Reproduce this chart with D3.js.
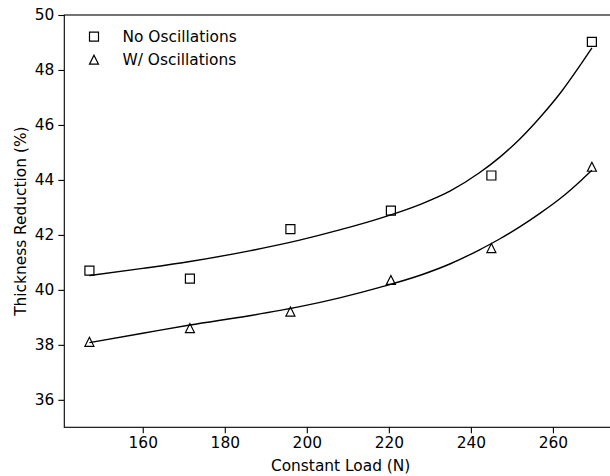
<!DOCTYPE html>
<html>
<head>
<meta charset="utf-8">
<script src="https://cdn.jsdelivr.net/npm/d3@7"></script>
<style>
  body { margin: 0; background: #fff; }
  svg { display: block; font-family: "DejaVu Sans", sans-serif; }
</style>
</head>
<body>
<div id="my_dataviz"></div>
<script>
// measured loads (N)
var loads = [147, 171.5, 196, 220.5, 245, 269.5]
// thickness reduction (%) for each series
var noOsc = [40.7, 40.41, 42.21, 42.88, 44.16, 49.02]
var withOsc = [38.11, 38.61, 39.21, 40.36, 41.52, 44.48]

// fitted trend lines
var fitX = [147, 160, 171.5, 186, 198, 208, 218, 228, 235, 242, 247, 252, 257, 262, 267, 269.5]
var fitNoOsc = [40.52, 40.78, 41.03, 41.42, 41.8, 42.18, 42.61, 43.13, 43.6, 44.25, 44.82, 45.5, 46.3, 47.2, 48.25, 48.8]
var fitWithOsc = [38.08, 38.42, 38.72, 39.06, 39.38, 39.71, 40.1, 40.55, 40.95, 41.45, 41.85, 42.3, 42.8, 43.35, 44.0, 44.35]

var xTicks = [160, 180, 200, 220, 240, 260]
var yTicks = [36, 38, 40, 42, 44, 46, 48, 50]
var seriesNames = ["No Oscillations", "W/ Oscillations"]

// set the dimensions of the graph
var width = 610
var height = 476
var plotL = 64.3, plotT = 15, plotB = 427.3, plotR = 617
var fontSize = "15.4px"

var svg = d3.select("#my_dataviz")
    .append("svg")
    .attr("width", width)
    .attr("height", height)

var x = d3.scaleLinear().domain([140.875, 275.625]).range([plotL, plotR])
var y = d3.scaleLinear().domain([35, 50]).range([plotB, plotT])

// axes
var xAxis = svg.append("g")
    .attr("transform", "translate(0," + plotB + ")")
    .call(d3.axisBottom(x).tickValues(xTicks).tickSize(6).tickPadding(4))
var yAxis = svg.append("g")
    .attr("transform", "translate(" + plotL + ",0)")
    .call(d3.axisLeft(y).tickValues(yTicks).tickSize(6).tickPadding(4))

xAxis.select(".domain").remove()
yAxis.select(".domain").remove()
svg.selectAll(".tick line").attr("stroke", "#000").attr("stroke-width", 1.1)
svg.selectAll(".tick text").attr("fill", "#000").style("font-size", fontSize)
    .style("font-family", "DejaVu Sans, sans-serif")

// spines (right one is outside the picture)
svg.append("rect")
    .attr("x", plotL)
    .attr("y", plotT)
    .attr("width", plotR - plotL)
    .attr("height", plotB - plotT)
    .attr("fill", "none")
    .attr("stroke", "#000")
    .attr("stroke-width", 1.1)

// axis labels
svg.append("text")
    .attr("x", (plotL + plotR) / 2)
    .attr("y", 471)
    .attr("text-anchor", "middle")
    .attr("fill", "#000")
    .style("font-size", fontSize)
    .text("Constant Load (N)")
svg.append("text")
    .attr("transform", "translate(26," + (plotT + plotB) / 2 + ") rotate(-90)")
    .attr("text-anchor", "middle")
    .attr("fill", "#000")
    .style("font-size", fontSize)
    .text("Thickness Reduction (%)")

// fit lines
var line = d3.line()
    .x(function (d) { return x(d[0]) })
    .y(function (d) { return y(d[1]) })
    .curve(d3.curveMonotoneX)

var fits = [fitNoOsc, fitWithOsc]
fits.forEach(function (f) {
    svg.append("path")
        .datum(d3.zip(fitX, f))
        .attr("d", line)
        .attr("fill", "none")
        .attr("stroke", "#000")
        .attr("stroke-width", 1.4)
})

// marker shapes, matplotlib style
var s = 9
function squarePath() {
    return "M" + (-s / 2) + "," + (-s / 2) + "h" + s + "v" + s + "h" + (-s) + "Z"
}
function trianglePath() {
    return "M0," + (-s / 2) + "L" + (s / 2) + "," + (s / 2) + "L" + (-s / 2) + "," + (s / 2) + "Z"
}
var shapes = [squarePath, trianglePath]

var series = [noOsc, withOsc]
series.forEach(function (vals, i) {
    svg.append("g")
        .selectAll("path")
        .data(d3.zip(loads, vals))
        .enter()
        .append("path")
        .attr("transform", function (d) { return "translate(" + x(d[0]) + "," + y(d[1]) + ")" })
        .attr("d", shapes[i]())
        .attr("fill", "none")
        .attr("stroke", "#000")
        .attr("stroke-width", 1.2)
})

// legend, no frame
var legend = svg.append("g")
seriesNames.forEach(function (name, i) {
    var ly = 36.7 + i * 23
    legend.append("path")
        .attr("transform", "translate(94," + ly + ")")
        .attr("d", shapes[i]())
        .attr("fill", "none")
        .attr("stroke", "#000")
        .attr("stroke-width", 1.2)
    legend.append("text")
        .attr("x", 122.5)
        .attr("y", ly)
        .attr("dy", "0.35em")
        .attr("fill", "#000")
        .style("font-size", fontSize)
        .text(name)
})
</script>
</body>
</html>
